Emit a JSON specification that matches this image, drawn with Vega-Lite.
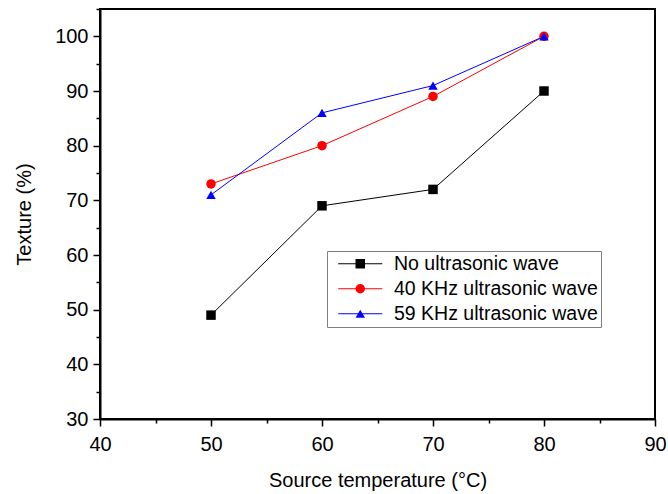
{
  "$schema": "https://vega.github.io/schema/vega-lite/v6.json",
  "width": 555,
  "height": 410,
  "autosize": {"type": "none"},
  "padding": {"left": 100, "top": 9, "right": 13, "bottom": 75},
  "background": "white",
  "config": {
    "view": {"stroke": "#000", "strokeWidth": 2},
    "font": "Liberation Sans"
  },
  "data": {
    "values": [
      {"temp": 50, "texture": 49, "series": "No ultrasonic wave"},
      {"temp": 60, "texture": 69, "series": "No ultrasonic wave"},
      {"temp": 70, "texture": 72, "series": "No ultrasonic wave"},
      {"temp": 80, "texture": 90, "series": "No ultrasonic wave"},
      {"temp": 50, "texture": 73, "series": "40 KHz ultrasonic wave"},
      {"temp": 60, "texture": 80, "series": "40 KHz ultrasonic wave"},
      {"temp": 70, "texture": 89, "series": "40 KHz ultrasonic wave"},
      {"temp": 80, "texture": 100, "series": "40 KHz ultrasonic wave"},
      {"temp": 50, "texture": 71, "series": "59 KHz ultrasonic wave"},
      {"temp": 60, "texture": 86, "series": "59 KHz ultrasonic wave"},
      {"temp": 70, "texture": 91, "series": "59 KHz ultrasonic wave"},
      {"temp": 80, "texture": 100, "series": "59 KHz ultrasonic wave"}
    ]
  },
  "encoding": {
    "x": {
      "field": "temp", "type": "quantitative",
      "scale": {"domain": [40, 90], "nice": false, "zero": false},
      "axis": {
        "title": "Source temperature (°C)",
        "values": [40, 45, 50, 55, 60, 65, 70, 75, 80, 85, 90],
        "labelExpr": "datum.value % 10 === 0 ? datum.label : ''",
        "tickSize": {"condition": {"test": "datum.value % 10 === 0", "value": 7}, "value": 4},
        "grid": false, "domainColor": "#000", "domainWidth": 2,
        "tickColor": "#000", "tickWidth": 1.5,
        "labelFontSize": 20, "labelColor": "#000", "labelPadding": 8,
        "labelFlush": false, "labelOverlap": false,
        "titleFontSize": 20, "titleFontWeight": "normal", "titleColor": "#000", "titlePadding": 16
      }
    },
    "y": {
      "field": "texture", "type": "quantitative",
      "scale": {"domain": [30, 105], "nice": false, "zero": false},
      "axis": {
        "title": "Texture (%)",
        "values": [30, 35, 40, 45, 50, 55, 60, 65, 70, 75, 80, 85, 90, 95, 100, 105],
        "labelExpr": "datum.value % 10 === 0 ? datum.label : ''",
        "tickSize": {"condition": {"test": "datum.value % 10 === 0", "value": 7}, "value": 4},
        "grid": false, "domainColor": "#000", "domainWidth": 2,
        "tickColor": "#000", "tickWidth": 1.5,
        "labelFontSize": 20, "labelColor": "#000", "labelPadding": 5,
        "labelFlush": false, "labelOverlap": false,
        "titleFontSize": 20, "titleFontWeight": "normal", "titleColor": "#000", "titlePadding": 20
      }
    }
  },
  "layer": [
    {
      "mark": {"type": "line", "strokeWidth": 1},
      "encoding": {
        "stroke": {
          "field": "series", "type": "nominal",
          "sort": ["No ultrasonic wave", "40 KHz ultrasonic wave", "59 KHz ultrasonic wave"],
          "scale": {"range": ["#000000", "#ff0000", "#0000ff"]},
          "legend": {
            "title": null, "orient": "none", "legendX": 227, "legendY": 242, "zindex": 1,
            "strokeColor": "#808080", "fillColor": "#ffffff", "padding": 3,
            "symbolType": "M-4.64,0H4.64", "symbolSize": 90, "symbolStrokeWidth": 1,
            "symbolOffset": 20.5, "symbolOpacity": 1,
            "labelFontSize": 19.5, "labelOpacity": 0, "labelOffset": 24, "labelLimit": 400,
            "rowPadding": 4
          }
        }
      }
    },
    {
      "mark": {"type": "point", "filled": true, "opacity": 1, "size": 90},
      "encoding": {
        "color": {
          "field": "series", "type": "nominal",
          "scale": {
            "domain": ["No ultrasonic wave", "40 KHz ultrasonic wave", "59 KHz ultrasonic wave"],
            "range": ["#000000", "#ff0000", "#0000ff"]
          },
          "legend": {
            "title": null, "orient": "none", "legendX": 227, "legendY": 242, "zindex": 2,
            "padding": 3,
            "symbolSize": 90, "symbolStrokeWidth": 1, "symbolOpacity": 1,
            "symbolOffset": 20.5,
            "labelFontSize": 19.5, "labelColor": "#000", "labelOffset": 24, "labelLimit": 400,
            "rowPadding": 4
          }
        },
        "shape": {
          "field": "series", "type": "nominal",
          "scale": {
            "domain": ["No ultrasonic wave", "40 KHz ultrasonic wave", "59 KHz ultrasonic wave"],
            "range": ["square", "circle", "triangle-up"]
          },
          "legend": {
            "title": null, "orient": "none", "legendX": 227, "legendY": 242, "zindex": 2,
            "padding": 3,
            "symbolSize": 90, "symbolStrokeWidth": 1, "symbolOpacity": 1,
            "symbolOffset": 20.5,
            "labelFontSize": 19.5, "labelColor": "#000", "labelOffset": 24, "labelLimit": 400,
            "rowPadding": 4
          }
        }
      }
    }
  ]
}
